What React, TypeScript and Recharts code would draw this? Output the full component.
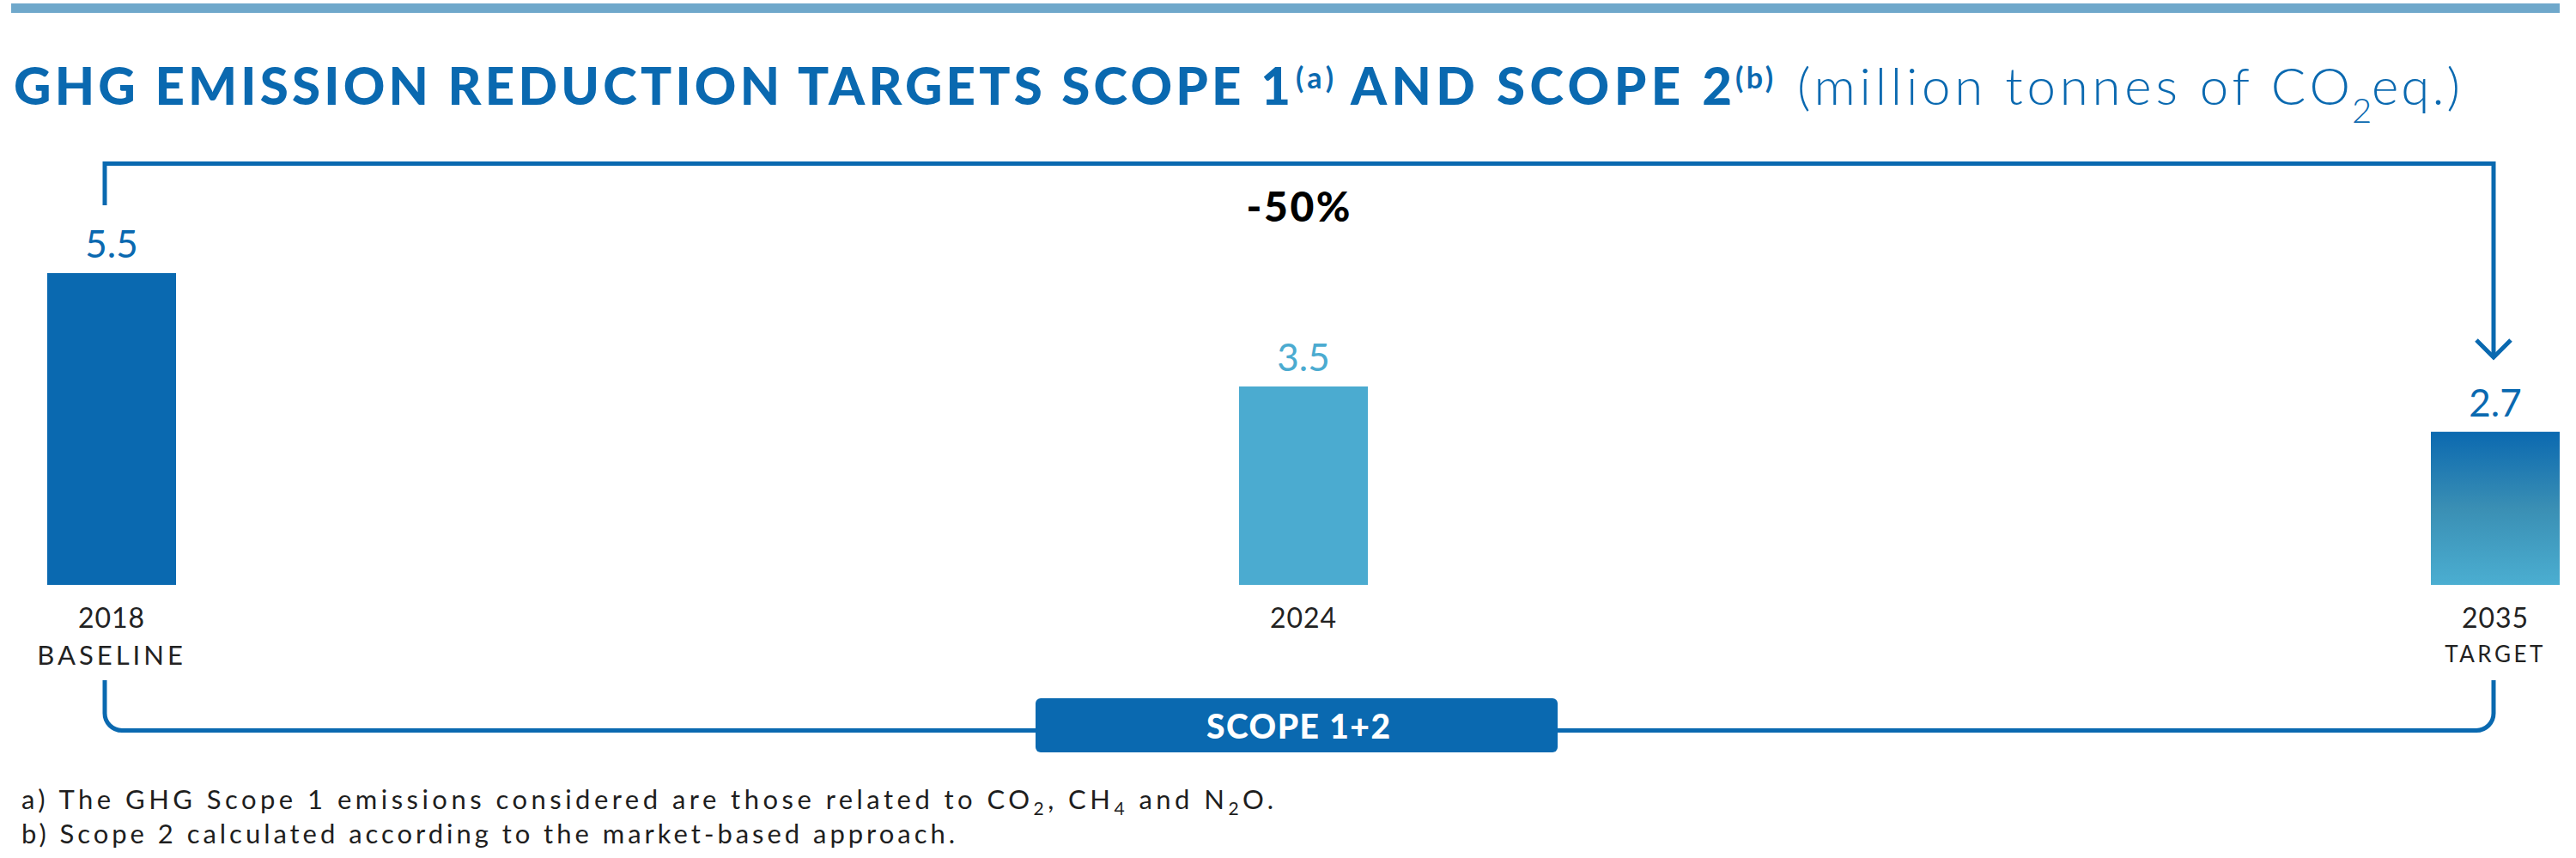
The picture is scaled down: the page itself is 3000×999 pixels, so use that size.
import React from 'react'
import { BarChart, Bar, XAxis, YAxis, Cell, LabelList } from 'recharts'

// GHG scope 1+2, million tonnes CO2eq
const years = ['2018', '2024', '2035']
const yearNotes = ['BASELINE', '', 'TARGET']
const emissions = [5.5, 3.5, 2.7]
const slots = [0, 1, 2]

const DARK = '#0a69b0'
const LIGHT = '#4babd0'
const FONT = 'Lato, "Open Sans", sans-serif'

const barFills = [DARK, LIGHT, 'url(#targetFade)']
const labelColors = [DARK, LIGHT, DARK]

const rows = slots.map((slot, i) => ({ slot, year: years[i], note: yearNotes[i], value: emissions[i] }))

const YearTick = (props: any) => {
  const { x, y, payload } = props
  const i = payload.value as number
  const note = yearNotes[i]
  return (
    <g>
      <text x={x} y={y + 50} textAnchor="middle" fontFamily={FONT} fontSize={32} fill="#222" letterSpacing={1}>
        {years[i]}
      </text>
      {note && (
        <text
          x={x}
          y={y + (i === 2 ? 90 : 93)}
          textAnchor="middle"
          fontFamily={FONT}
          fontSize={i === 2 ? 26 : 31}
          letterSpacing={i === 2 ? 3.5 : 4}
          fill="#222"
        >
          {note}
        </text>
      )}
    </g>
  )
}

const ValueLabel = (props: any) => {
  const { x, y, width, value, index } = props
  return (
    <text
      x={x + width / 2}
      y={y - 18}
      textAnchor="middle"
      fontFamily={FONT}
      fontSize={44}
      fill={labelColors[index]}
    >
      {value}
    </text>
  )
}

function Decorations() {
  const stroke = { stroke: DARK, strokeWidth: 5, fill: 'none' }
  return (
    <svg
      width={3000}
      height={999}
      style={{ position: 'absolute', left: 0, top: 0, pointerEvents: 'none' }}
    >
      <defs>
        <linearGradient id="targetFade" x1="0" y1="0" x2="0" y2="1">
          <stop offset="0%" stopColor="#0b69b0" />
          <stop offset="50%" stopColor="#3a8fb4" />
          <stop offset="100%" stopColor="#4baed1" />
        </linearGradient>
      </defs>

      <rect x={13} y={4} width={2968} height={11} fill="#6fa8cb" />

      {/* title */}
      <text x={16} y={122} fontFamily={FONT} fontWeight={900} fontSize={60} fill={DARK} textLength={1487} lengthAdjust="spacing">
        GHG EMISSION REDUCTION TARGETS SCOPE 1
      </text>
      <text x={1509} y={103} fontFamily={FONT} fontWeight={700} fontSize={34} fill={DARK} textLength={44} lengthAdjust="spacing">
        (a)
      </text>
      <text x={1573} y={122} fontFamily={FONT} fontWeight={900} fontSize={60} fill={DARK} textLength={444} lengthAdjust="spacing">
        AND SCOPE 2
      </text>
      <text x={2021} y={103} fontFamily={FONT} fontWeight={700} fontSize={34} fill={DARK} textLength={44} lengthAdjust="spacing">
        (b)
      </text>
      <text x={2093} y={122} fontFamily={FONT} fontWeight={300} fontSize={60} fill={DARK} textLength={644} lengthAdjust="spacing">
        (million tonnes of CO
      </text>
      <text x={2739} y={143} fontFamily={FONT} fontWeight={300} fontSize={40} fill={DARK}>
        2
      </text>
      <text x={2762} y={122} fontFamily={FONT} fontWeight={300} fontSize={60} fill={DARK} textLength={103} lengthAdjust="spacing">
        eq.)
      </text>

      {/* top bracket + arrow */}
      <path d="M122,239 V190.5 H2904 V416" {...stroke} strokeLinejoin="miter" />
      <path d="M2884,396 L2904,416 L2924,396" {...stroke} />
      <text x={1512} y={258} textAnchor="middle" fontFamily={FONT} fontWeight={900} fontSize={48} fill="#000" textLength={121} lengthAdjust="spacing">
        -50%
      </text>

      {/* bottom bracket */}
      <path d="M122,792 V830.5 A20,20 0 0 0 142,850.5 H1206" {...stroke} />
      <path d="M1814,850.5 H2884 A20,20 0 0 0 2904,830.5 V792" {...stroke} />
      <rect x={1206} y={813} width={608} height={63} rx={6} fill={DARK} />
      <text x={1512} y={860} textAnchor="middle" fontFamily={FONT} fontWeight={900} fontSize={39} fill="#fff" textLength={214} lengthAdjust="spacing">
        SCOPE 1+2
      </text>

      {/* footnotes */}
      <text x={25} y={942} fontFamily={FONT} fontWeight={400} fontSize={31} fill="#1e1e1e" textLength={1458} lengthAdjust="spacing">
        a) The GHG Scope 1 emissions considered are those related to CO
        <tspan fontSize={21} dy={7}>2</tspan>
        <tspan dy={-7}>, CH</tspan>
        <tspan fontSize={21} dy={7}>4</tspan>
        <tspan dy={-7}> and N</tspan>
        <tspan fontSize={21} dy={7}>2</tspan>
        <tspan dy={-7}>O.</tspan>
      </text>
      <text x={25} y={982} fontFamily={FONT} fontWeight={400} fontSize={31} fill="#1e1e1e" textLength={1087} lengthAdjust="spacing">
        b) Scope 2 calculated according to the market-based approach.
      </text>
    </svg>
  )
}

export default function App() {
  return (
    <div style={{ position: 'absolute', left: 0, top: 0, width: 3000, height: 999, background: '#fff', fontFamily: FONT }}>
      <BarChart width={3000} height={999} data={rows} margin={{ top: 285, right: 94, bottom: 198, left: 130 }}>
        <XAxis
          type="number"
          dataKey="slot"
          domain={[0, 2]}
          ticks={slots}
          interval={0}
          axisLine={false}
          tickLine={false}
          tickSize={0}
          tickMargin={0}
          height={120}
          tick={<YearTick />}
        />
        <YAxis hide domain={[0, 6]} />
        <Bar dataKey="value" barSize={150} isAnimationActive={false}>
          {rows.map((r, i) => (
            <Cell key={r.year} fill={barFills[i]} />
          ))}
          <LabelList dataKey="value" content={<ValueLabel />} />
        </Bar>
      </BarChart>
      <Decorations />
    </div>
  )
}
